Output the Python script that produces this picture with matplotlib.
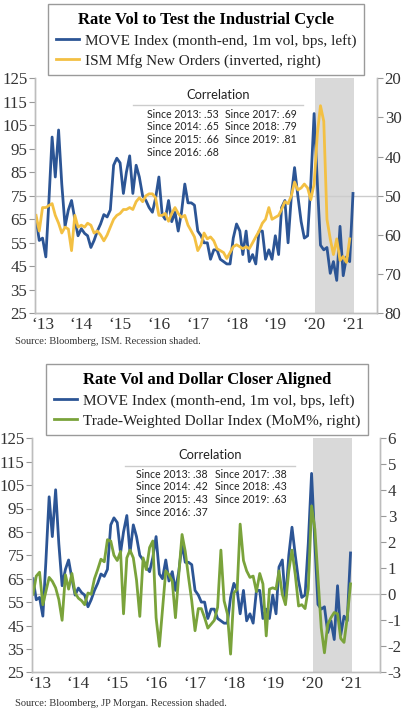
import numpy as np
import pandas as pd
import matplotlib
matplotlib.use("Agg")
import matplotlib.pyplot as plt
from matplotlib.lines import Line2D

plt.rcParams['font.family'] = ['Liberation Serif', 'DejaVu Serif']
plt.rcParams['axes.unicode_minus'] = False

# monthly data, Nov 2012 - Jan 2021
dates = pd.date_range('2012-11-01', periods=99, freq='MS')

move = [65, 56, 57, 49, 72, 100, 83, 103, 80, 62, 69, 73, 65, 58, 61, 59, 58, 53, 56, 60, 63, 67, 66, 69,
        88, 91, 89, 76, 85, 92, 76, 88, 83, 75, 73, 70, 68, 74, 83, 67, 65, 73, 64, 68, 60, 68, 80, 72,
        72, 71, 60, 58, 55, 55, 48, 52, 52, 48, 47, 46, 46, 57, 63, 60, 50, 60, 47, 50, 46, 60, 60, 48,
        52, 48, 58, 50, 70, 73, 55, 75, 87, 75, 64, 57, 58, 80, 110, 80, 54, 52, 53, 42, 47, 39, 62, 41,
        49, 47, 76]

ism_new_orders = [55, 59, 53, 53, 52.5, 52, 55, 57, 59.5, 58, 58.5, 64, 55, 58, 57.5, 58, 57, 57.5, 59.5, 59,
                  60, 61.5, 60, 58, 56, 55, 54.5, 53.5, 53.5, 53, 53.5, 51.5, 50.5, 51.5, 50, 49.5, 49.5, 50.5,
                  55, 55, 54.5, 56.5, 54.5, 53, 54.5, 55.5, 55, 57.5, 59, 60.5, 64, 62.5, 59.5, 61, 60.5, 61.5,
                  63.5, 64, 64.5, 66, 64.5, 63, 62.5, 63, 63.5, 63, 63.5, 62, 60.5, 59, 57, 56, 53, 56, 55.5,
                  55, 53.5, 51.5, 52, 50, 46.5, 48.5, 48, 47, 48, 51, 47, 34, 27, 31, 56, 61, 65, 61, 66.5,
                  65.5, 67, 61, np.nan]

dollar_mom = [0.0, 0.7, 0.85, -0.4, 0.1, 0.65, 0.5, 0.25, -0.2, -1.0, 0.75, 0.2, 0.8, 0.05, -0.15, -0.25,
              -0.4, 0.05, 0.0, 0.6, 0.95, 1.35, 1.25, 2.1, 2.05, 1.5, 1.3, 1.65, -0.75, 1.4, 1.7, 1.4, 0.55,
              -0.85, 1.4, 0.95, 1.8, 2.05, -0.9, -2.0, -0.6, 0.9, 0.75, 0.5, -0.9, 0.75, 2.3, 1.65, 0.65,
              -0.25, -1.4, -0.55, -0.55, -0.9, -1.3, -1.15, -1.0, -0.5, 1.7, -0.25, -0.75, -2.3, 0.05, 0.2,
              2.7, 1.3, 0.9, 0.65, 0.7, 0.1, 0.8, 0.4, -1.6, 0.2, 0.25, 0.2, 0.9, 0.0, -0.4, 0.9, 1.7, 0.75,
              -0.45, -0.4, -0.55, 0.2, 3.4, 2.5, 0.65, -1.3, -2.25, -1.15, -0.9, -0.7, -0.75, -1.7, -1.85,
              -0.9, 0.4]

corr_ism = ["Since 2013: .53", "Since 2014: .65", "Since 2015: .66", "Since 2016: .68",
            "Since 2017: .69", "Since 2018: .79", "Since 2019: .81"]
corr_dollar = ["Since 2013: .38", "Since 2014: .42", "Since 2015: .43", "Since 2016: .37",
               "Since 2017: .38", "Since 2018: .43", "Since 2019: .63"]

years = list(range(2013, 2022))
year_labels = ["\u2018" + str(y)[2:] for y in years]
recession = (pd.Timestamp('2020-01-10'), pd.Timestamp('2021-01-15'))

BLUE = '#2c5595'
YELLOW = '#f3c043'
GREEN = '#7aa33b'
GREY = '#bdbdbd'
W, H = 410, 711

fig = plt.figure(figsize=(W / 100, H / 100), dpi=100)


def fx(px):
    return px / W


def fy(py):
    return 1 - py / H


def make_panel(box, xmax, right_lim, right_ticks, right_series, right_color, zero_left):
    left, top, right, bottom = box
    ax = fig.add_axes([fx(left), fy(bottom), fx(right - left), fy(top) - fy(bottom)])
    ax.axvspan(*recession, color='#d9d9d9', lw=0, zorder=0)
    ax.axhline(zero_left, color='#cccccc', lw=1, zorder=1)
    l1, = ax.plot(dates, move, color=BLUE, lw=2, zorder=2)
    ax.set_ylim(25, 125)
    ax.set_yticks(range(25, 126, 10))
    ax.set_xlim(pd.Timestamp('2012-10-22'), xmax)
    ax.set_xticks([pd.Timestamp(f'{y}-01-01') for y in years])
    ax.set_xticklabels(year_labels)

    ax2 = ax.twinx()
    l2, = ax2.plot(dates, right_series, color=right_color, lw=2)
    ax2.set_ylim(*right_lim)
    ax2.set_yticks(right_ticks)

    for a in (ax, ax2):
        a.spines['top'].set_visible(False)
        for s in ('left', 'right', 'bottom'):
            a.spines[s].set_color(GREY)
            a.spines[s].set_linewidth(1)
        a.tick_params(axis='y', length=4, width=0.8, color='#999999', labelsize=12.2,
                      pad=1.5, labelcolor='#333333')
        a.tick_params(axis='x', length=0, pad=3, labelsize=12.5, labelcolor='#333333')
    return ax, ax2, l1, l2


def draw_legend(l1, l2, title, label2, left, top):
    leg = fig.legend([l1, l2], ["MOVE Index (month-end, 1m vol, bps, left)", label2],
                     title=title, loc='upper left', bbox_to_anchor=(fx(left), fy(top)),
                     frameon=True, fancybox=False, edgecolor='#9a9a9a', framealpha=1,
                     handlelength=1.5, handletextpad=0.4, borderpad=0.5, labelspacing=0.4,
                     borderaxespad=0, prop={'family': 'Liberation Serif', 'size': 11},
                     title_fontproperties={'family': 'Liberation Serif', 'size': 12,
                                           'weight': 'bold'})
    leg.get_frame().set_linewidth(1)
    for t in leg.get_texts():
        t.set_color('#222222')


def draw_corr(rows, cx, x1, x2, line_l, line_r, ytitle, yline, yrow):
    fig.text(fx(cx), fy(ytitle), "Correlation", family='Lato', size=9.3, ha='center',
             va='center', color='#222222')
    fig.add_artist(Line2D([fx(line_l), fx(line_r)], [fy(yline), fy(yline)],
                          color='#cccccc', lw=1))
    for k, r in enumerate(rows[:4]):
        fig.text(fx(x1), fy(yrow + 12.9 * k), r, family='Lato', size=7.6, va='center',
                 color='#222222')
    for k, r in enumerate(rows[4:]):
        fig.text(fx(x2), fy(yrow + 12.9 * k), r, family='Lato', size=7.6, va='center',
                 color='#222222')


# top panel
ax, ax2, l1, l2 = make_panel((35, 78.3, 377, 313.3), pd.Timestamp('2021-08-15'),
                             (80, 20), range(20, 81, 10), ism_new_orders, YELLOW, 75)
draw_legend(l1, l2, "Rate Vol to Test the Industrial Cycle",
            "ISM Mfg New Orders (inverted, right)", 48, 4)
draw_corr(corr_ism, 218, 147, 225, 133, 303, 95, 105, 114)
fig.text(fx(15), fy(341), "Source: Bloomberg, ISM. Recession shaded.", size=7.5,
         va='center', color='#333333')

# bottom panel
bx, bx2, b1, b2 = make_panel((32, 438.3, 380, 672.3), pd.Timestamp('2021-10-05'),
                             (-3, 6), range(-3, 7), dollar_mom, GREEN, 58.33)
draw_legend(b1, b2, "Rate Vol and Dollar Closer Aligned",
            "Trade-Weighted Dollar Index (MoM%, right)", 46, 364)
draw_corr(corr_dollar, 210, 136, 215, 125, 295, 455, 466, 474)
fig.text(fx(15), fy(703), "Source: Bloomberg, JP Morgan. Recession shaded.", size=7.5,
         va='center', color='#333333')

fig.savefig("out.png", dpi=100)
